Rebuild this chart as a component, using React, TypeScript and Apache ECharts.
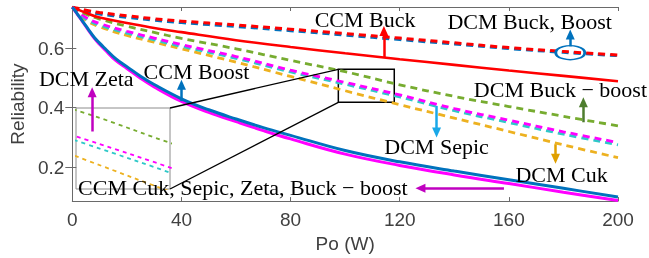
import React, { useEffect, useRef } from 'react';
import * as echarts from 'echarts';

// Output power samples (W)
const poFine = [0, 1, 2, 4, 6, 8, 10, 12, 16, 20, 25, 30, 40, 50, 60, 70, 80, 100, 120, 140, 160, 180, 200];
const poCoarse = [0, 2, 5, 10, 20, 30, 40, 60, 80, 100, 120, 140, 160, 180, 200];

// Reliability values
const ccmBoost = [0.738, 0.726, 0.713, 0.688, 0.662, 0.637, 0.617, 0.599, 0.564, 0.538, 0.506, 0.478, 0.43, 0.393, 0.362, 0.333, 0.307, 0.256, 0.218, 0.187, 0.158, 0.129, 0.1];
const ccmCukSepicZetaBB = [0.738, 0.725, 0.712, 0.686, 0.659, 0.634, 0.613, 0.594, 0.558, 0.532, 0.499, 0.47, 0.421, 0.384, 0.353, 0.323, 0.295, 0.244, 0.206, 0.174, 0.145, 0.116, 0.088];
const ccmBuck = [0.738, 0.73, 0.719, 0.703, 0.685, 0.668, 0.654, 0.627, 0.604, 0.583, 0.563, 0.544, 0.525, 0.507, 0.489];
const dcmBuck = [0.738, 0.734, 0.728, 0.72, 0.709, 0.699, 0.691, 0.678, 0.664, 0.649, 0.634, 0.618, 0.602, 0.589, 0.577];
const dcmBoost = [0.738, 0.731, 0.724, 0.715, 0.704, 0.694, 0.686, 0.673, 0.659, 0.644, 0.629, 0.614, 0.599, 0.586, 0.575];
const dcmBuckBoost = [0.738, 0.728, 0.714, 0.698, 0.674, 0.653, 0.633, 0.598, 0.559, 0.521, 0.477, 0.438, 0.404, 0.371, 0.339];
const dcmZeta = [0.738, 0.725, 0.703, 0.683, 0.657, 0.634, 0.612, 0.572, 0.526, 0.485, 0.443, 0.397, 0.358, 0.319, 0.283];
const dcmSepic = [0.738, 0.722, 0.698, 0.677, 0.651, 0.628, 0.606, 0.566, 0.52, 0.479, 0.436, 0.39, 0.35, 0.311, 0.275];
const dcmCuk = [0.738, 0.72, 0.694, 0.672, 0.643, 0.62, 0.598, 0.553, 0.505, 0.457, 0.41, 0.365, 0.32, 0.275, 0.232];

// Axes
const xTicks = [0, 40, 80, 120, 160, 200];
const yTicks = [0.2, 0.4, 0.6];
const yRange = [0.086, 0.7385];
const zoomX = [97.5, 118];
const zoomY = [0.418, 0.529];

// Annotations (data coordinates)
const labels = [
  { text: 'CCM Buck', at: [107.3, 0.695] },
  { text: 'DCM Buck, Boost', at: [167.6, 0.689] },
  { text: 'CCM Boost', at: [45.5, 0.523] },
  { text: 'DCM Zeta', at: [5.1, 0.498] },
  { text: 'DCM Buck \u2212 boost', at: [178.9, 0.462] },
  { text: 'DCM Sepic', at: [133.5, 0.268] },
  { text: 'DCM Cuk', at: [179.3, 0.175] },
  { text: 'CCM Cuk, Sepic, Zeta, Buck \u2212 boost', at: [62.5, 0.132] },
];
const arrows = [
  { color: '#FF0000', from: [114.2, 0.569], to: [114.2, 0.658] },
  { color: '#0072BD', from: [182.5, 0.606], to: [182.5, 0.646] },
  { color: '#0072BD', from: [40, 0.422], to: [40, 0.477] },
  { color: '#C000C0', from: [7.27, 0.32], to: [7.27, 0.452] },
  { color: '#4E7D2E', from: [187.3, 0.351], to: [187.3, 0.418] },
  { color: '#1AA8E8', from: [133.5, 0.406], to: [133.5, 0.317] },
  { color: '#E0A000', from: [177.1, 0.277], to: [177.1, 0.228] },
  { color: '#C000C0', from: [158.2, 0.129], to: [127.6, 0.129] },
];
const ellipseAt = [182.5, 0.585];

export default function App() {
  const ref = useRef<HTMLDivElement>(null);
  useEffect(() => {
    const chart = echarts.init(ref.current!, null, { renderer: 'svg' });
    const mk = (xs: number[], ys: number[]) => xs.map((x, i) => [x, ys[i]]);
    const axisColor = '#6a6a6a';
    const labelColor = '#404040';
    const sans = '"Liberation Sans", Arial, sans-serif';
    const serif = '"Liberation Serif", "Times New Roman", serif';
    const dash = [7, 5];

    const lineSeries = (name: string, data: number[][], color: string, dashed: boolean, width: number, extra: any = {}) => ({
      type: 'line',
      name,
      xAxisIndex: 0,
      yAxisIndex: 0,
      data,
      showSymbol: false,
      symbol: 'none',
      smooth: 0.4,
      silent: true,
      lineStyle: { color, width, type: dashed ? dash : 'solid' },
      itemStyle: { color },
      ...extra,
    });
    const insetSeries = (name: string, data: number[][], color: string) => ({
      type: 'line',
      name: name + '-inset',
      xAxisIndex: 2,
      yAxisIndex: 3,
      data,
      showSymbol: false,
      symbol: 'none',
      smooth: 0.4,
      clip: true,
      silent: true,
      lineStyle: { color, width: 1.8, type: [4, 4] },
    });

    const series: any[] = [
      lineSeries('DCM Cuk', mk(poCoarse, dcmCuk), '#EDB120', true, 2.8),
      lineSeries('DCM Sepic', mk(poCoarse, dcmSepic), '#2EC8C8', true, 2.8),
      lineSeries('DCM Zeta', mk(poCoarse, dcmZeta), '#FF00FF', true, 2.8),
      lineSeries('DCM Buck-boost', mk(poCoarse, dcmBuckBoost), '#77AC30', true, 2.8, {
        markArea: {
          silent: true,
          label: { show: false },
          itemStyle: { color: 'rgba(0,0,0,0)', borderColor: '#000', borderWidth: 1.5 },
          data: [[{ coord: [zoomX[0], zoomY[1]] }, { coord: [zoomX[1], zoomY[0]] }]],
        },
      }),
      lineSeries('DCM Boost', mk(poCoarse, dcmBoost), '#0072BD', true, 3, {
        markPoint: {
          silent: true,
          data: [{
            coord: ellipseAt, symbol: 'circle', symbolSize: [29, 14],
            itemStyle: { color: 'rgba(0,0,0,0)', borderColor: '#0072BD', borderWidth: 2 },
            label: { show: false },
          }],
        },
      }),
      lineSeries('DCM Buck', mk(poCoarse, dcmBuck), '#FF0000', true, 3),
      lineSeries('CCM Buck', mk(poCoarse, ccmBuck), '#FF0000', false, 2.6, {
        markLine: {
          silent: true,
          symbol: ['none', 'triangle'],
          symbolSize: [9, 10],
          label: { show: false },
          data: arrows.map((a) => [
            { coord: a.from, lineStyle: { color: a.color, width: 2.5, type: 'solid' }, itemStyle: { color: a.color } },
            { coord: a.to, lineStyle: { color: a.color, width: 2.5, type: 'solid' }, itemStyle: { color: a.color } },
          ]),
        },
      }),
      lineSeries('CCM Cuk, Sepic, Zeta, Buck-boost', mk(poFine, ccmCukSepicZetaBB), '#FF00FF', false, 3),
      lineSeries('CCM Boost', mk(poFine, ccmBoost), '#0072BD', false, 3),
      insetSeries('DCM Cuk', mk(poCoarse, dcmCuk), '#EDB120'),
      insetSeries('DCM Sepic', mk(poCoarse, dcmSepic), '#2EC8C8'),
      insetSeries('DCM Zeta', mk(poCoarse, dcmZeta), '#FF00FF'),
      insetSeries('DCM Buck-boost', mk(poCoarse, dcmBuckBoost), '#77AC30'),
    ];

    const hiddenTick = { inside: true, length: 4, lineStyle: { color: axisColor } };
    chart.setOption({
      animation: false,
      grid: [
        { left: 68, top: 7, width: 550, height: 212, containLabel: false },
        { left: 76, top: 108, width: 94, height: 81, show: true, borderColor: '#8c8c8c', borderWidth: 1, backgroundColor: '#fff' },
      ],
      xAxis: [
        {
          type: 'value', gridIndex: 0, position: 'bottom', min: 0, max: 200, interval: 40,
          axisLine: { show: true, lineStyle: { color: axisColor, width: 1 } },
          axisTick: { show: true, inside: true, length: 4, lineStyle: { color: axisColor } },
          axisLabel: { color: labelColor, fontSize: 19, fontFamily: sans, margin: 9, customValues: xTicks },
          splitLine: { show: false },
          name: 'Po (W)', nameLocation: 'middle', nameGap: 14,
          nameTextStyle: { color: labelColor, fontSize: 19, fontFamily: sans },
        },
        {
          type: 'value', gridIndex: 0, position: 'top', min: 0, max: 200, interval: 40,
          axisLine: { show: true, lineStyle: { color: axisColor, width: 1 } },
          axisTick: hiddenTick, axisLabel: { show: false }, splitLine: { show: false },
        },
        { type: 'value', gridIndex: 1, min: zoomX[0], max: zoomX[1], show: false, splitLine: { show: false } },
      ],
      yAxis: [
        {
          type: 'value', gridIndex: 0, position: 'left', min: yRange[0], max: yRange[1],
          axisLine: { show: true, lineStyle: { color: axisColor, width: 1 } },
          axisTick: { show: true, inside: false, length: 7, customValues: yTicks, lineStyle: { color: axisColor } },
          axisLabel: { color: labelColor, fontSize: 19, fontFamily: sans, margin: 8, customValues: yTicks, formatter: (v: number) => v.toFixed(1) },
          splitLine: { show: false },
          name: 'Reliability', nameLocation: 'middle', nameGap: 40, nameRotate: 90,
          nameTextStyle: { color: labelColor, fontSize: 19, fontFamily: sans },
        },
        {
          type: 'value', gridIndex: 0, position: 'right', min: yRange[0], max: yRange[1],
          axisLine: { show: true, lineStyle: { color: axisColor, width: 1 } },
          axisTick: { ...hiddenTick, customValues: yTicks }, axisLabel: { show: false }, splitLine: { show: false },
        },
        {
          type: 'value', gridIndex: 0, position: 'left', min: yRange[0], max: yRange[1],
          axisLine: { show: false },
          axisTick: { ...hiddenTick, customValues: yTicks }, axisLabel: { show: false }, splitLine: { show: false },
        },
        { type: 'value', gridIndex: 1, min: zoomY[0], max: zoomY[1], show: false, splitLine: { show: false } },
      ],
      series,
    });

    const p0 = (v: number[]) => chart.convertToPixel({ gridIndex: 0 }, v) as number[];
    const p1 = (v: number[]) => chart.convertToPixel({ gridIndex: 1 }, v) as number[];
    const a1 = p0([zoomX[0], zoomY[1]]);
    const b1 = p1([zoomX[1], zoomY[1]]);
    const a2 = p0([zoomX[0], zoomY[0]]);
    const b2 = p1([zoomX[1], zoomY[0]]);
    const graphics: any[] = [
      { type: 'line', z: 50, silent: true, shape: { x1: a1[0], y1: a1[1], x2: b1[0], y2: b1[1] }, style: { stroke: '#000', lineWidth: 1.3 } },
      { type: 'line', z: 50, silent: true, shape: { x1: a2[0], y1: a2[1], x2: b2[0], y2: b2[1] }, style: { stroke: '#000', lineWidth: 1.3 } },
      ...labels.map((l) => {
        const p = p0(l.at);
        return {
          type: 'text', z: 60, silent: true, x: p[0], y: p[1],
          style: { text: l.text, fill: '#000', fontSize: 22, fontFamily: serif, align: 'center', verticalAlign: 'middle' },
        };
      }),
    ];
    chart.setOption({ graphic: graphics });

    return () => chart.dispose();
  }, []);
  return <div ref={ref} style={{ position: 'fixed', left: 0, top: 0, width: 649, height: 258 }} />;
}
